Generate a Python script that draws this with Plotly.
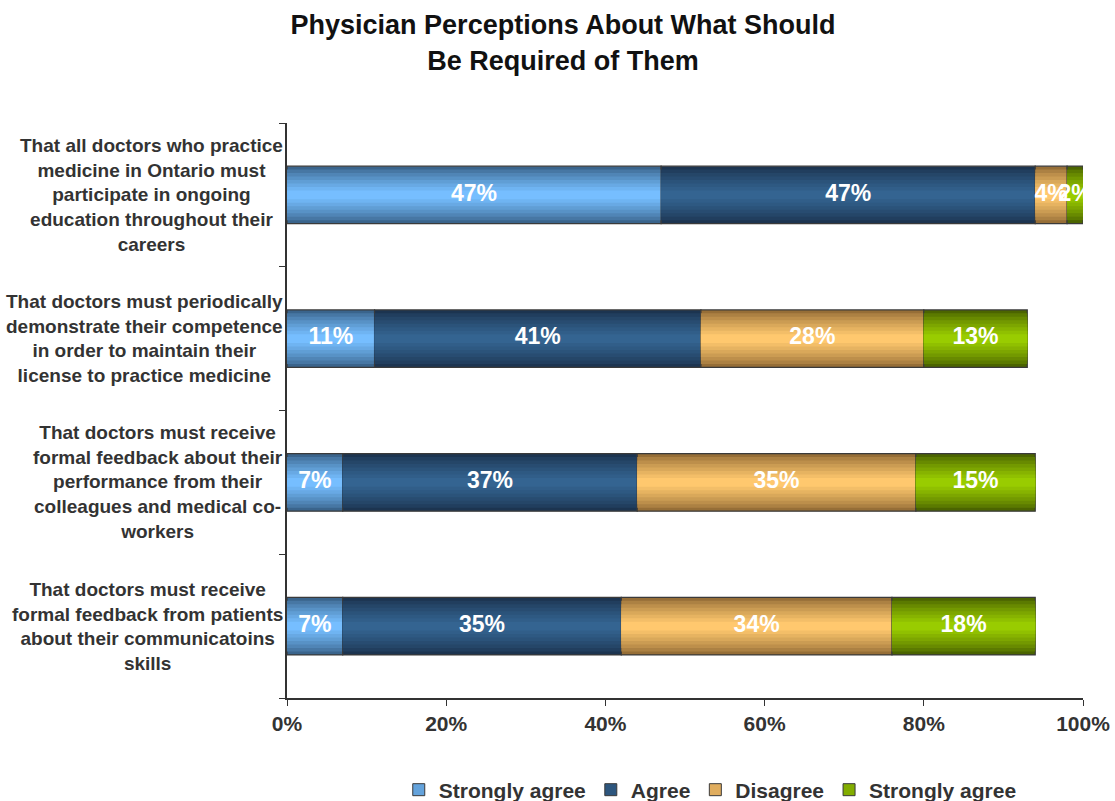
import plotly.graph_objects as go

categories = [
    "That all doctors who practice<br>medicine in Ontario must<br>participate in ongoing<br>education throughout their<br>careers",
    "That doctors must periodically<br>demonstrate their competence<br>in order to maintain their<br>license to practice medicine",
    "That doctors must receive<br>formal feedback about their<br>performance from their<br>colleagues and medical co-<br>workers",
    "That doctors must receive<br>formal feedback from patients<br>about their communicatoins<br>skills",
]
series_names = ["Strongly agree", "Agree", "Disagree", "Strongly agree"]
strongly_agree = [47, 11, 7, 7]
agree = [47, 41, 37, 35]
disagree = [4, 28, 35, 34]
strongly_disagree = [2, 13, 15, 18]
x_ticks = [0, 20, 40, 60, 80, 100]
x_tick_labels = ["0%", "20%", "40%", "60%", "80%", "100%"]

series_values = [strongly_agree, agree, disagree, strongly_disagree]
# (edge color, center color)
palette = [
    ((58, 100, 140), (118, 190, 255)),
    ((28, 52, 80), (52, 100, 145)),
    ((150, 110, 55), (255, 200, 110)),
    ((75, 100, 0), (153, 204, 0)),
]

FONT = "Liberation Sans, Arial, sans-serif"
fig = go.Figure()

def mix(a, b, t):
    return "rgb(%d,%d,%d)" % tuple(round(a[i] + (b[i] - a[i]) * t) for i in range(3))

ids = list(range(len(categories)))
n_layers = 8
bar_w = 0.4
cum = [0] * len(categories)
label_x, label_y, label_t = [], [], []
for s, vals in enumerate(series_values):
    edge, center = palette[s]
    base = cum[:]
    for k in range(n_layers):
        t = k / (n_layers - 1)
        w = bar_w * (1 - 0.85 * t)
        fig.add_trace(go.Bar(
            x=vals, y=ids, base=base, orientation="h", width=w,
            marker=dict(color=mix(edge, center, t ** 0.8),
                        line=dict(width=1.2 if k == 0 else 0, color="#3a3a3a")),
            showlegend=False, hoverinfo="skip",
        ))
    for i, v in enumerate(vals):
        label_x.append(base[i] + v / 2)
        label_y.append(i)
        label_t.append(f"<b>{v}%</b>")
        cum[i] += v
    fig.add_trace(go.Bar(
        x=[None], y=[None], orientation="h", name="<b>%s</b>" % series_names[s],
        marker=dict(color=mix(edge, center, 0.7), line=dict(width=1, color="#3a3a3a")),
        showlegend=True,
    ))

fig.add_trace(go.Scatter(
    x=label_x, y=label_y, text=label_t, mode="text",
    textfont=dict(color="white", size=23, family=FONT),
    showlegend=False, hoverinfo="skip",
))

for i, c in enumerate(categories):
    fig.add_annotation(
        x=-0.002, xref="paper", y=i, yref="y", text="<b>%s</b>" % c,
        showarrow=False, xanchor="right", yanchor="middle", align="center",
        font=dict(size=19, family=FONT, color="#333333"),
    )

fig.update_layout(
    width=1115, height=801,
    barmode="overlay",
    paper_bgcolor="white", plot_bgcolor="white",
    margin=dict(l=287, r=32, t=123, b=103, autoexpand=False),
    font=dict(family=FONT, color="#333333"),
    title=dict(
        text="<b>Physician Perceptions About What Should<br>Be Required of Them</b>",
        x=0.505, xanchor="center", y=0.957, yanchor="top",
        font=dict(size=27, family=FONT, color="#111111"),
    ),
    legend=dict(
        orientation="h", x=0.637, xref="container", xanchor="center",
        y=0.0137, yref="container", yanchor="middle",
        font=dict(size=21, family=FONT, color="#333333"),
        itemwidth=30, traceorder="normal",
    ),
    xaxis=dict(
        range=[0, 100], tickvals=x_ticks,
        ticktext=["<b>%s</b>" % t for t in x_tick_labels],
        ticks="outside", ticklen=6, tickcolor="#333333",
        showline=True, linecolor="#333333", linewidth=1.5,
        showgrid=False, zeroline=False, automargin=False,
        tickfont=dict(size=21, family=FONT, color="#333333"),
    ),
    yaxis=dict(
        range=[3.5, -0.5], tickvals=[-0.5, 0.5, 1.5, 2.5, 3.5], ticktext=["", "", "", "", ""],
        ticks="outside", ticklen=6, tickcolor="#333333",
        showline=True, linecolor="#333333", linewidth=1.5,
        showgrid=False, zeroline=False, automargin=False,
    ),
)

fig.write_html("out.html")
